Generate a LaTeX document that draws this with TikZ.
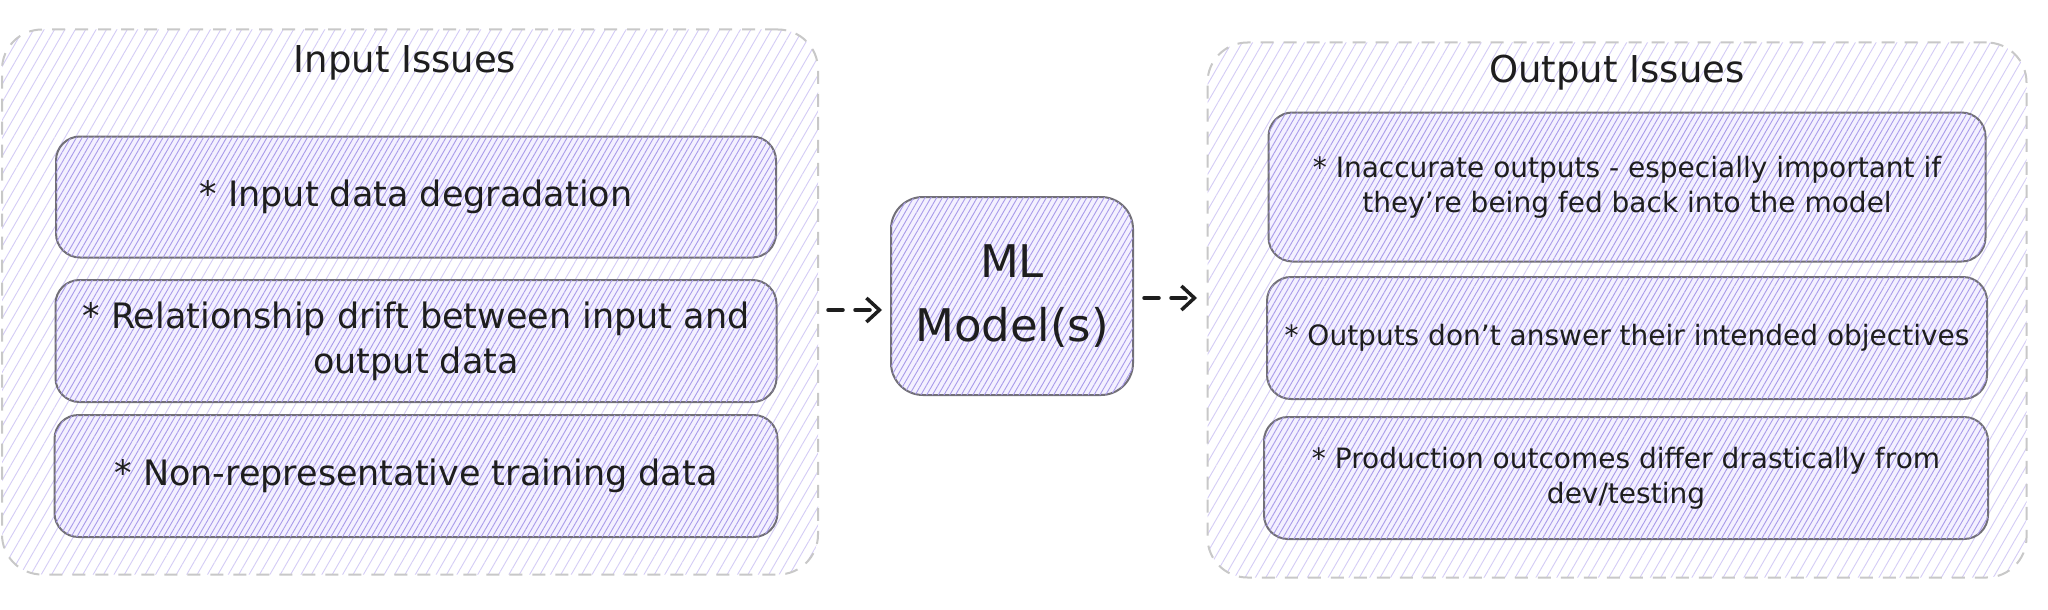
\documentclass[tikz,border=0pt]{standalone}
\usepackage{fontspec}
\setmainfont{DejaVu Sans}
\usetikzlibrary{patterns.meta,arrows.meta}
\definecolor{hatchA}{HTML}{D4CCF6}
\definecolor{hatchB}{HTML}{A99BEA}
\definecolor{boxfill}{HTML}{F4F1FF}
\definecolor{boxline}{HTML}{727078}
\definecolor{dashline}{HTML}{C8C8C8}
\definecolor{ink}{HTML}{1E1E1E}
\tikzset{
  container/.style={draw=dashline, line width=2pt, dash pattern=on 13pt off 10pt,
    rounded corners=40pt, rectangle,
    pattern={Lines[angle=60,distance=9pt,line width=0.9pt]}, pattern color=hatchA},
  issuebox/.style={draw=boxline, line width=2pt, rounded corners=24pt, rectangle,
    fill=boxfill, postaction={pattern={Lines[angle=60,distance=5pt,line width=0.9pt]}, pattern color=hatchB},
    text=ink, align=center, inner sep=0pt},
  leftbox/.style={issuebox, font=\fontsize{35}{45}\selectfont},
  rightbox/.style={issuebox, font=\fontsize{28}{35}\selectfont},
  title/.style={text=ink, font=\fontsize{37}{44}\selectfont},
  modelbox/.style={issuebox, rounded corners=32pt, font=\fontsize{45}{64}\selectfont},
  arr/.style={draw=ink, line width=3.5pt, dash pattern=on 15pt off 12pt, line cap=round,
    -{Straight Barb[length=13pt,width=24pt,line width=3.5pt]}}
}
\begin{document}
\begin{tikzpicture}[x=1pt,y=-1pt]
\useasboundingbox (0,0) rectangle (2048,610);
\fill[white] (0,0) rectangle (2048,610);
% containers
\node[container, minimum width=816pt, minimum height=545pt] (lc) at (410,302) {};
\node[container, minimum width=819pt, minimum height=535pt] (rc) at (1617,310) {};
\node[title] (lt) at (405,63) {Input Issues};
\node[title] (rt) at (1617,73) {Output Issues};
% left boxes
\node[leftbox, minimum width=720pt, minimum height=121pt] (b1) at (416,197) {* Input data degradation};
\node[leftbox, minimum width=721pt, minimum height=122pt] (b2) at (416,341) {* Relationship drift between input and\\output data};
\node[leftbox, minimum width=723pt, minimum height=122pt] (b3) at (416,476) {* Non-representative training data};
% model
\node[modelbox, minimum width=242pt, minimum height=198pt] (ml) at (1012,296) {ML\\Model(s)};
% right boxes
\node[rightbox, minimum width=717pt, minimum height=149pt] (r1) at (1627,187) {* Inaccurate outputs - especially important if\\they're being fed back into the model};
\node[rightbox, minimum width=720pt, minimum height=122pt] (r2) at (1627,338) {* Outputs don't answer their intended objectives};
\node[rightbox, minimum width=724pt, minimum height=122pt] (r3) at (1626,478) {* Production outcomes differ drastically from\\dev/testing};
% arrows
\coordinate (a1s) at (828,310);
\coordinate (a1e) at (882,310);
\coordinate (a2s) at (1144,298);
\coordinate (a2e) at (1197,298);
\draw[arr] (a1s) -- (a1e);
\draw[arr] (a2s) -- (a2e);
\end{tikzpicture}
\end{document}
